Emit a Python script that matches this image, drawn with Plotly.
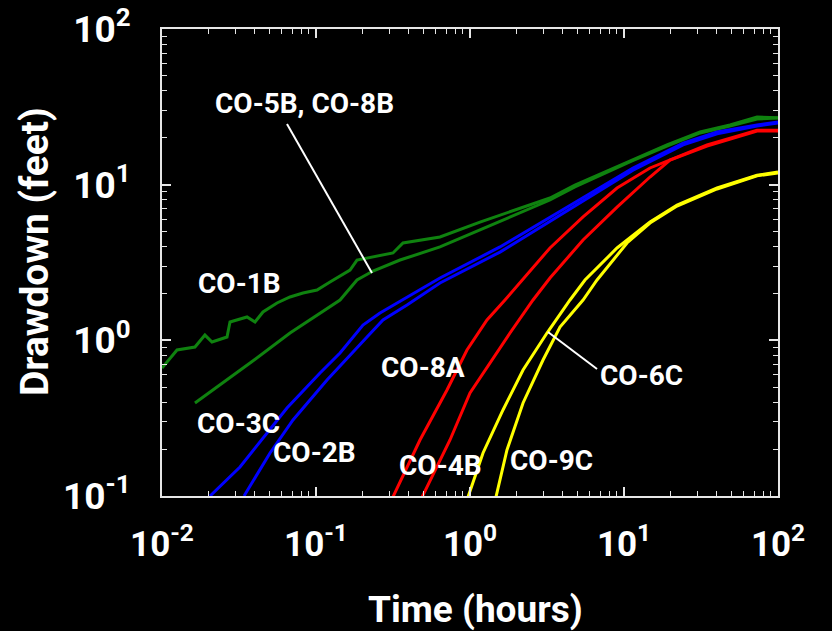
import plotly.graph_objects as go

# ---- data (time in hours, drawdown in feet) ----
co1b_t = [0.01, 0.01252, 0.01637, 0.0190, 0.02112, 0.02643, 0.02764, 0.03565, 0.04017, 0.04527,
          0.0558, 0.0678, 0.0823, 0.1015, 0.1233, 0.1663, 0.1846, 0.2345, 0.3162, 0.3672,
          0.4951, 0.6385, 1.161, 2.112, 3.306, 4.80, 11.27, 19.0, 31.2, 48.8, 73.1, 100]
co1b_d = [0.664, 0.867, 0.906, 1.081, 0.976, 1.05, 1.312, 1.413, 1.312, 1.521,
          1.738, 1.90, 2.014, 2.105, 2.37, 2.83, 3.28, 3.43, 3.64, 4.22,
          4.41, 4.61, 5.75, 7.08, 8.21, 9.95, 14.4, 17.98, 21.8, 24.2, 27.2, 26.9]

co5b_t = [0.01637, 0.03728, 0.0678, 0.1062, 0.1432, 0.1846, 0.2345, 0.3512, 0.6385, 1.161,
          2.112, 3.306, 4.80, 11.27, 19.0, 31.2, 48.8, 73.1, 100]
co5b_d = [0.396, 0.715, 1.114, 1.498, 1.816, 2.441, 2.789, 3.28, 3.98, 5.12,
          6.58, 7.97, 9.66, 14.2, 17.7, 21.5, 23.8, 26.4, 26.8]

co3c_t = [0.0205, 0.0321, 0.0648, 0.1062, 0.1432, 0.2019, 0.2604, 0.3899, 0.6385, 1.566,
          3.306, 5.42, 11.44, 24.2, 40.2, 73.1, 100]
co3c_d = [0.1, 0.1536, 0.3677, 0.6169, 0.8295, 1.254, 1.498, 1.90, 2.515, 3.98,
          6.20, 8.21, 12.8, 18.5, 21.8, 24.2, 25.3]

co2b_t = [0.0341, 0.0503, 0.0709, 0.1179, 0.2144, 0.2723, 0.3899, 0.6385, 1.566, 3.306,
          5.42, 11.44, 24.2, 40.2, 73.1, 100]
co2b_d = [0.1, 0.189, 0.308, 0.556, 1.05, 1.351, 1.687, 2.335, 3.69, 5.84,
          7.85, 12.4, 18.0, 21.2, 23.8, 24.9]

co8a_t = [0.316, 0.4732, 0.7089, 0.956, 1.289, 1.687, 3.306, 5.42, 9.01, 14.75,
          22.1, 34.6, 54.2, 73.1, 100]
co8a_d = [0.0986, 0.229, 0.48, 0.867, 1.351, 1.816, 3.92, 6.20, 9.52, 12.8,
          15.05, 18.0, 20.5, 22.4, 22.4]

co4b_t = [0.489, 0.7414, 1.0, 1.289, 1.818, 2.566, 3.306, 5.42, 9.01, 14.75,
          19.9, 34.6, 54.2, 73.1, 100]
co4b_d = [0.0986, 0.229, 0.459, 0.674, 1.114, 1.816, 2.515, 4.41, 7.18, 11.2,
          14.4, 17.7, 20.2, 22.1, 22.1]

co6c_t = [0.971, 1.215, 1.638, 2.21, 3.162, 4.46, 5.58, 9.01, 14.75, 22.1,
          40.2, 73.1, 100]
co6c_d = [0.0986, 0.189, 0.357, 0.645, 1.114, 1.816, 2.441, 3.92, 5.75, 7.40,
          9.52, 11.5, 12.06]

co9c_t = [1.475, 1.738, 2.21, 2.98, 3.84, 5.42, 6.68, 10.46, 14.75, 22.1,
          40.2, 73.1, 100]
co9c_d = [0.0986, 0.1975, 0.396, 0.7475, 1.218, 1.816, 2.441, 4.22, 5.67, 7.29,
          9.38, 11.4, 11.9]

x_tickvals = [0.01, 0.1, 1, 10, 100]
x_ticktext = ["10<sup>-2</sup>", "10<sup>-1</sup>", "10<sup>0</sup>", "10<sup>1</sup>", "10<sup>2</sup>"]
y_tickvals = [0.1, 1, 10, 100]
y_ticktext = ["10<sup>-1</sup>", "10<sup>0</sup>", "10<sup>1</sup>", "10<sup>2</sup>"]
minor_digits = [2, 3, 4, 5, 6, 7, 8, 9]
x_title = "Time (hours)"
y_title = "Drawdown (feet)"

GREEN = "#0f820f"
BLUE = "#0000ff"
RED = "#ff0000"
YELLOW = "#ffff00"
FONT = "Roboto, Liberation Sans, sans-serif"
FRAME = "#e6e6e6"

series = [
    (co1b_t, co1b_d, GREEN),
    (co5b_t, co5b_d, GREEN),
    (co3c_t, co3c_d, BLUE),
    (co2b_t, co2b_d, BLUE),
    (co8a_t, co8a_d, RED),
    (co4b_t, co4b_d, RED),
    (co6c_t, co6c_d, YELLOW),
    (co9c_t, co9c_d, YELLOW),
]

fig = go.Figure()
for t, d, c in series:
    fig.add_trace(go.Scatter(x=t, y=d, mode="lines", line=dict(color=c, width=3),
                             hoverinfo="skip"))

labels = [
    ("CO-5B, CO-8B", 0.2321, 0.8415),
    ("CO-1B", 0.1266, 0.454),
    ("CO-3C", 0.1234, 0.156),
    ("CO-2B", 0.2468, 0.0921),
    ("CO-8A", 0.4237, 0.276),
    ("CO-4B", 0.4513, 0.066),
    ("CO-9C", 0.6315, 0.077),
    ("CO-6C", 0.7776, 0.257),
]
for txt, px, py in labels:
    fig.add_annotation(text=txt, x=px, y=py, xref="paper", yref="paper",
                       showarrow=False, xanchor="center", yanchor="middle",
                       font=dict(family=FONT, size=28, color="white", weight="bold"))

# axis titles
fig.add_annotation(text=x_title, x=0.509, y=-0.242, xref="paper", yref="paper",
                   showarrow=False, xanchor="center", yanchor="middle",
                   font=dict(family=FONT, size=37, color="white", weight="bold"))
fig.add_annotation(text=y_title, x=-0.206, y=0.5225, xref="paper", yref="paper",
                   showarrow=False, xanchor="center", yanchor="middle", textangle=-90,
                   font=dict(family=FONT, size=39, color="white", weight="bold"))

# leader lines
for x0, y0, x1, y1 in [(0.2029, 0.7966, 0.3409, 0.4775), (0.6266, 0.3512, 0.7062, 0.2719)]:
    fig.add_shape(type="line", x0=x0, y0=y0, x1=x1, y1=y1, xref="paper", yref="paper",
                  line=dict(color="white", width=2))


def minor_vals(lo, hi):
    return [m * 10 ** e for e in range(lo, hi) for m in minor_digits]


axis_common = dict(
    type="log", showgrid=False, zeroline=False, automargin=False,
    showline=True, linecolor=FRAME, linewidth=2, mirror="ticks",
    ticks="inside", ticklen=9, tickwidth=1.5, tickcolor=FRAME,
)

fig.update_xaxes(**axis_common, range=[-2, 2], tickvals=x_tickvals, ticktext=x_ticktext,
                 ticklabelstandoff=16,
                 tickfont=dict(family=FONT, size=35, color="white", weight="bold"),
                 minor=dict(tickvals=minor_vals(-2, 2), ticks="inside", ticklen=5,
                            tickwidth=1.2, tickcolor=FRAME, showgrid=False))
fig.update_yaxes(**axis_common, range=[-1, 2], tickvals=y_tickvals, ticktext=y_ticktext,
                 ticklabelstandoff=22,
                 tickfont=dict(family=FONT, size=37, color="white", weight="bold"),
                 minor=dict(tickvals=minor_vals(-1, 2), ticks="inside", ticklen=5,
                            tickwidth=1.2, tickcolor=FRAME, showgrid=False))

fig.update_layout(
    width=832, height=631,
    paper_bgcolor="black", plot_bgcolor="black",
    margin=dict(l=162, r=54, t=29, b=135),
    showlegend=False,
)

fig.write_html("out.html")
